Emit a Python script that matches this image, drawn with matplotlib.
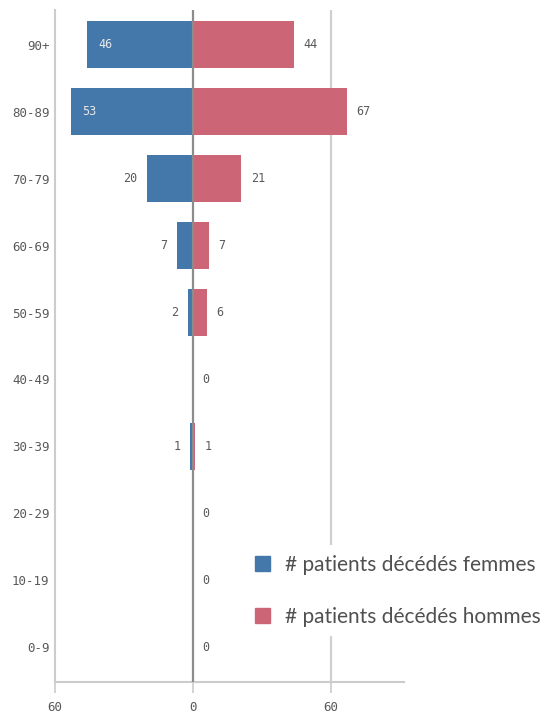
import matplotlib.pyplot as plt
from matplotlib.patches import Patch

# data
ages = ["90+", "80-89", "70-79", "60-69", "50-59", "40-49", "30-39", "20-29", "10-19", "0-9"]
femmes = [46, 53, 20, 7, 2, 0, 1, 0, 0, 0]
hommes = [44, 67, 21, 7, 6, 0, 1, 0, 0, 0]

blue = "#4477aa"
pink = "#cc6677"
grey_txt = "#595959"

fig = plt.figure(figsize=(5.52, 7.13), dpi=100)
ax = fig.add_axes([0.0996, 0.0435, 0.6324, 0.9425])

y = list(range(len(ages)))
ax.barh(y, [-v for v in femmes], height=0.7, color=blue, zorder=2)
ax.barh(y, hommes, height=0.7, color=pink, zorder=2)

ax.set_xlim(-60, 92)
ax.set_ylim(len(ages) - 0.48, -0.52)
ax.set_yticks(y)
ax.set_yticklabels(ages)
ax.set_xticks([-60, 0, 60])
ax.set_xticklabels(["60", "0", "60"])

mono = "DejaVu Sans Mono"
for lbl in ax.get_yticklabels() + ax.get_xticklabels():
    lbl.set_fontfamily(mono)
    lbl.set_fontsize(9)
    lbl.set_color(grey_txt)
ax.tick_params(axis="y", length=0, pad=4)
ax.tick_params(axis="x", length=8, width=1.2, color="#cccccc", pad=6)

# grid lines
ax.axvline(0, color="#8c8c8c", lw=1.6, zorder=3)
ax.axvline(60, color="#d0d0d0", lw=1.6, zorder=1)

for s in ["top", "right"]:
    ax.spines[s].set_visible(False)
for s in ["left", "bottom"]:
    ax.spines[s].set_color("#cccccc")
    ax.spines[s].set_linewidth(1.5)

# value labels
for i, (f, h) in enumerate(zip(femmes, hommes)):
    if f > 0:
        if f >= 40:
            ax.annotate(str(f), (-f, i), xytext=(8, 0), textcoords="offset points",
                        ha="left", va="center", fontsize=8.5, family=mono, color="#e8e8e8", zorder=4)
        else:
            ax.annotate(str(f), (-f, i), xytext=(-7, 0), textcoords="offset points",
                        ha="right", va="center", fontsize=8.5, family=mono, color=grey_txt, zorder=4)
    ax.annotate(str(h), (h, i), xytext=(7, 0), textcoords="offset points",
                ha="left", va="center", fontsize=8.5, family=mono, color=grey_txt, zorder=4)

handles = [Patch(color=blue, label="# patients décédés femmes"),
           Patch(color=pink, label="# patients décédés hommes")]
leg = fig.legend(handles=handles, loc="upper left", bbox_to_anchor=(0.426, 0.25),
                 frameon=True, facecolor="white", edgecolor="none", framealpha=1,
                 prop={"family": "Lato", "size": 15},
                 handlelength=0.72, handleheight=0.72, handletextpad=0.72,
                 labelspacing=1.54, borderpad=0.45, fancybox=False)
for t in leg.get_texts():
    t.set_color("#505050")

fig.savefig("out.png", dpi=100)
